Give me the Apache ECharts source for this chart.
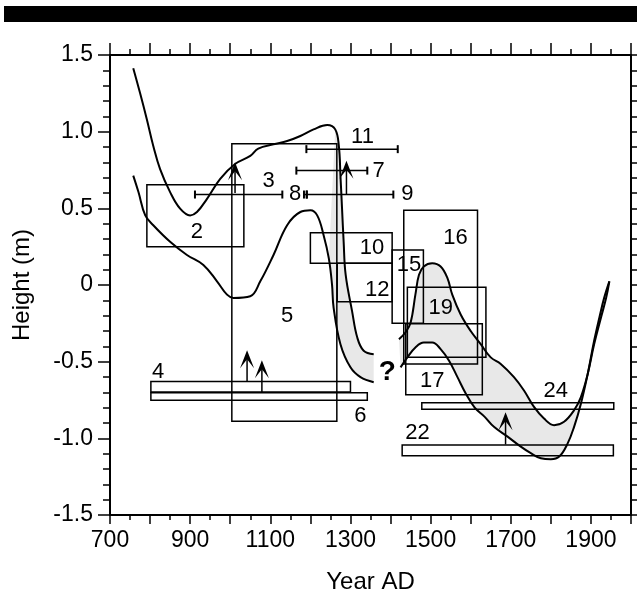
<!DOCTYPE html>
<html>
<head>
<meta charset="utf-8">
<script src="https://cdn.jsdelivr.net/npm/echarts@6/dist/echarts.min.js"></script>
<style>
  html, body { margin: 0; padding: 0; background: #fff; }
  #chart { width: 637px; height: 599px; }
</style>
</head>
<body>
<div id="chart"></div>
<script>
  // curves: [year, height m]
  var curveA = [[758,1.414],[775,1.252],[792,1.080],[808,0.907],[825,0.756],[850,0.606],[875,0.498],[900,0.454],[917,0.476],[942,0.562],[975,0.692],[1012,0.789],[1050,0.842],[1070,0.89],[1108,0.918],[1142,0.939],[1175,0.972],[1208,1.015],[1242,1.043],[1262,1.015],[1271,0.907],[1275,0.713],[1279,0.498],[1283,0.282],[1288,0.067],[1304,-0.170],[1317,-0.343],[1333,-0.429],[1358,-0.451]]
  var curveB = [[758,0.713],[771,0.606],[788,0.454],[808,0.390],[850,0.282],[892,0.196],[933,0.131],[967,0.024],[992,-0.063],[1008,-0.084],[1050,-0.073],[1075,0.024],[1108,0.196],[1142,0.390],[1175,0.476],[1200,0.487],[1217,0.454],[1233,0.325],[1246,0.174],[1254,0.002],[1258,-0.149],[1275,-0.386],[1300,-0.537],[1325,-0.601],[1358,-0.634]]
  var curveC = [[1421,-0.354],[1437,-0.310],[1450,-0.246],[1462,-0.063],[1471,0.067],[1483,0.121],[1504,0.142],[1525,0.121],[1542,0.045],[1554,-0.063],[1575,-0.192],[1600,-0.300],[1625,-0.386],[1650,-0.472],[1675,-0.515],[1708,-0.601],[1733,-0.688],[1758,-0.795],[1783,-0.871],[1808,-0.914],[1833,-0.892],[1858,-0.817],[1875,-0.731],[1892,-0.580],[1908,-0.386],[1925,-0.213],[1938,-0.084],[1946,0.024]]
  var curveD = [[1425,-0.537],[1442,-0.472],[1462,-0.407],[1483,-0.375],[1504,-0.375],[1525,-0.418],[1546,-0.494],[1567,-0.601],[1588,-0.709],[1610,-0.800],[1635,-0.860],[1658,-0.925],[1692,-0.989],[1725,-1.054],[1750,-1.097],[1775,-1.130],[1800,-1.136],[1821,-1.119],[1842,-1.033],[1858,-0.925],[1875,-0.774],[1892,-0.580],[1908,-0.364],[1921,-0.213],[1933,-0.084],[1946,0.024]]

  // boxes: [year from, year to, height top, height bottom]
  var boxes = [
    [792,1034,0.653,0.250],    // 2
    [1004,1266,0.921,-0.888],  // 5
    [1200,1404,0.341,0.142],   // 10
    [1267,1404,0.142,-0.110],  // 12
    [1404,1482,0.228,-0.250],  // 15
    [1433,1617,0.487,-0.515],  // 16
    [1442,1638,-0.015,-0.472], // 19
    [1438,1629,-0.252,-0.716], // 17
    [802,1300,-0.629,-0.698],  // 4
    [802,1342,-0.703,-0.752],  // 6
    [1478,1957,-0.768,-0.810], // 24
    [1429,1956,-1.043,-1.114]  // 22
  ]
  // age ranges: [year from, year to, height]
  var ranges = [
    [912,1130,0.59],   // 3
    [1184,1191,0.59],  // 8
    [1191,1407,0.59],  // 9
    [1165,1342,0.746], // 7
    [1190,1418,0.886]  // 11
  ]
  // arrows: [year, height base, height tip]
  var arrows = [
    [1012,0.60,0.80],
    [1290,0.59,0.81],
    [1042,-0.63,-0.425],
    [1079,-0.70,-0.49],
    [1687,-1.04,-0.83]
  ]
  var labelText = ['2','3','8','9','7','11','10','12','15','16','19','17','24','22','5','4','6','?']
  var labelPos = [[917,0.347],[1096,0.681],[1162,0.595],[1442,0.595],[1370,0.743],[1330,0.963],[1354,0.239],[1367,-0.030],[1446,0.131],[1562,0.304],[1525,-0.149],[1504,-0.623],[1812,-0.688],[1467,-0.968],[1142,-0.203],[820,-0.569],[1325,-0.854],[1392,-0.569]]

  var font = 'Liberation Sans, Arial, Helvetica, sans-serif'

  // grey bands between the two curves
  var bands = [
    curveA.filter(function (p) { return p[0] >= 1262 }).concat(curveB.filter(function (p) { return p[0] >= 1246 }).reverse()),
    curveC.concat(curveD.slice().reverse())
  ]

  var charts = echarts.init(document.getElementById('chart'))

  function axisX(pos, show) {
    return {
      type: 'value',
      position: pos,
      min: 700,
      max: 2000,
      interval: 100,
      axisLine: { onZero: false, lineStyle: { color: '#000', width: 2 } },
      axisTick: { length: show ? 9 : 12, lineStyle: { color: '#000', width: 1.5 } },
      minorTick: { show: true, splitNumber: 2, length: show ? 5 : 6, lineStyle: { color: '#000', width: 1.5 } },
      splitLine: { show: false },
      axisLabel: {
        show: show,
        margin: 14,
        color: '#000',
        fontSize: 23,
        fontFamily: font,
        formatter: function (v) { return v % 200 === 100 ? String(v) : '' }
      }
    }
  }
  function axisY(pos, show) {
    return {
      type: 'value',
      position: pos,
      min: -1.5,
      max: 1.5,
      interval: 0.5,
      axisLine: { onZero: false, lineStyle: { color: '#000', width: 2 } },
      axisTick: { length: 12, lineStyle: { color: '#000', width: 1.5 } },
      minorTick: { show: true, splitNumber: 5, length: 7, lineStyle: { color: '#000', width: 1.5 } },
      splitLine: { show: false },
      axisLabel: {
        show: show,
        margin: 17,
        color: '#000',
        fontSize: 23,
        fontFamily: font,
        formatter: function (v) { return Math.abs(v) < 1e-9 ? '0' : v.toFixed(1) }
      }
    }
  }

  var xBottom = axisX('bottom', true)
  xBottom.name = 'Year AD'
  xBottom.nameLocation = 'middle'
  xBottom.nameGap = 55
  xBottom.nameTextStyle = { color: '#000', fontSize: 24, fontFamily: font }
  var yLeft = axisY('left', true)
  yLeft.name = 'Height (m)'
  yLeft.nameLocation = 'middle'
  yLeft.nameGap = 76
  yLeft.nameTextStyle = { color: '#000', fontSize: 24, fontFamily: font }

  function lineSeries(d) {
    return {
      type: 'line',
      data: d,
      smooth: 0.4,
      symbol: 'none',
      z: 5,
      lineStyle: { color: '#000', width: 2 }
    }
  }

  var option = {
    animation: false,
    backgroundColor: '#fff',
    grid: { left: 110, right: 6, top: 55, bottom: 80 },
    xAxis: [xBottom, axisX('top', false)],
    yAxis: [yLeft, axisY('right', false)],
    graphic: [
      { type: 'rect', left: 4, top: 6, shape: { width: 633, height: 16 }, style: { fill: '#000' } }
    ],
    series: [
      {
        type: 'custom',
        z: 1,
        data: [[0], [1]],
        renderItem: function (params, api) {
          var pts = bands[params.dataIndex].map(function (p) { return api.coord(p) })
          return { type: 'polygon', shape: { points: pts }, style: { fill: '#e8e8e8' } }
        }
      },
      {
        type: 'custom',
        z: 2,
        data: boxes,
        encode: { x: [0, 1], y: [2, 3] },
        renderItem: function (params, api) {
          var a = api.coord([api.value(0), api.value(2)])
          var b = api.coord([api.value(1), api.value(3)])
          return {
            type: 'rect',
            shape: { x: a[0], y: a[1], width: b[0] - a[0], height: b[1] - a[1] },
            style: { fill: 'none', stroke: '#000', lineWidth: 1.5 }
          }
        }
      },
      lineSeries(curveA),
      lineSeries(curveB),
      lineSeries(curveC),
      lineSeries(curveD),
      {
        type: 'custom',
        z: 6,
        data: ranges,
        encode: { x: [0, 1], y: 2 },
        renderItem: function (params, api) {
          var a = api.coord([api.value(0), api.value(2)])
          var b = api.coord([api.value(1), api.value(2)])
          var st = { stroke: '#000', lineWidth: 1.5 }
          return {
            type: 'group',
            children: [
              { type: 'line', shape: { x1: a[0], y1: a[1], x2: b[0], y2: b[1] }, style: st },
              { type: 'line', shape: { x1: a[0], y1: a[1] - 4, x2: a[0], y2: a[1] + 4 }, style: { stroke: '#000', lineWidth: 2 } },
              { type: 'line', shape: { x1: b[0], y1: b[1] - 4, x2: b[0], y2: b[1] + 4 }, style: { stroke: '#000', lineWidth: 2 } }
            ]
          }
        }
      },
      {
        type: 'custom',
        z: 6,
        data: arrows,
        encode: { x: 0, y: [1, 2] },
        renderItem: function (params, api) {
          var b = api.coord([api.value(0), api.value(1)])
          var t = api.coord([api.value(0), api.value(2)])
          return {
            type: 'group',
            children: [
              { type: 'line', shape: { x1: b[0], y1: b[1], x2: t[0], y2: t[1] + 6 }, style: { stroke: '#000', lineWidth: 1.5 } },
              { type: 'polygon', shape: { points: [[t[0], t[1]], [t[0] - 7, t[1] + 18], [t[0], t[1] + 9], [t[0] + 7, t[1] + 18]] }, style: { fill: '#000' } }
            ]
          }
        }
      },
      {
        type: 'custom',
        z: 7,
        data: labelPos,
        renderItem: function (params, api) {
          var p = api.coord([api.value(0), api.value(1)])
          var txt = labelText[params.dataIndex]
          return {
            type: 'text',
            style: {
              text: txt, x: p[0], y: p[1],
              align: 'center', verticalAlign: 'middle',
              fill: '#000', font: (txt === '?' ? 'bold 28px ' : '22px ') + font
            }
          }
        }
      }
    ]
  }
  charts.setOption(option)
  window.addEventListener('resize', function () {
    charts.resize()
  })
</script>
</body>
</html>
